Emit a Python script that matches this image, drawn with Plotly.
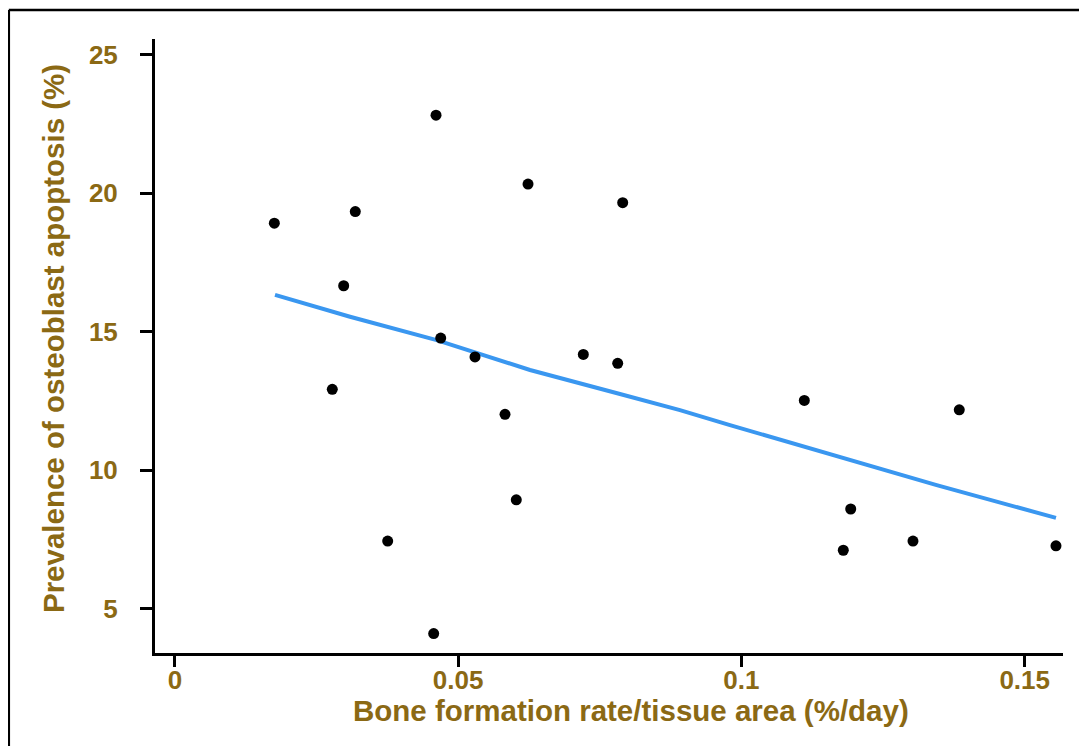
import plotly.graph_objects as go

# Scatter data: bone formation rate / tissue area (%/day) vs osteoblast apoptosis (%)
bfr = [0.01755, 0.03184, 0.04609, 0.06233, 0.07904, 0.02979, 0.04692, 0.05297,
       0.07209, 0.07816, 0.02778, 0.05827, 0.06026, 0.03756, 0.04568, 0.11110,
       0.13845, 0.11929, 0.11798, 0.13028, 0.15552]
apoptosis = [18.92, 19.34, 22.82, 20.33, 19.66, 16.66, 14.77, 14.09,
             14.18, 13.86, 12.92, 12.02, 8.93, 7.44, 4.10, 12.52,
             12.18, 8.60, 7.11, 7.44, 7.27]

# Smoothed trend line
trend_x = [0.01767, 0.03091, 0.04621, 0.06268, 0.07856, 0.08915, 0.09798, 0.11798, 0.13446, 0.15552]
trend_y = [16.33, 15.54, 14.70, 13.62, 12.75, 12.17, 11.63, 10.45, 9.46, 8.28]

x_ticks = [0, 0.05, 0.1, 0.15]
x_tick_labels = ["0", "0.05", "0.1", "0.15"]
y_ticks = [5, 10, 15, 20, 25]
y_tick_labels = ["5", "10", "15", "20", "25"]

x_title = "Bone formation rate/tissue area (%/day)"
y_title = "Prevalence of osteoblast apoptosis (%)"

GOLD = "#8B6914"
FONT = "Liberation Sans, Arial, sans-serif"

fig = go.Figure()
fig.add_trace(go.Scatter(x=trend_x, y=trend_y, mode="lines",
                         line=dict(color="#3a97f0", width=4), hoverinfo="skip",
                         showlegend=False))
fig.add_trace(go.Scatter(x=bfr, y=apoptosis, mode="markers",
                         marker=dict(color="black", size=11), showlegend=False))

axis_common = dict(showline=True, linecolor="black", linewidth=3, ticks="outside",
                   tickcolor="black", tickwidth=3, showgrid=False, zeroline=False,
                   tickfont=dict(family=FONT, size=26, color=GOLD, weight="bold"))

fig.update_xaxes(range=[-0.003513, 0.15676], tickvals=x_ticks, ticktext=x_tick_labels,
                 ticklen=11, ticklabelstandoff=-9, **axis_common)
fig.update_yaxes(range=[3.40, 25.57], tickvals=y_ticks, ticktext=y_tick_labels,
                 ticklen=12, ticklabelstandoff=17, **axis_common)

fig.add_annotation(text=x_title, xref="paper", yref="paper", x=0.5242, y=-0.094,
                   xanchor="center", yanchor="middle", showarrow=False,
                   font=dict(family=FONT, size=29.5, color=GOLD, weight="bold"))
fig.add_annotation(text=y_title, xref="paper", yref="paper", x=-0.1123, y=0.5114,
                   xanchor="center", yanchor="middle", showarrow=False, textangle=-90,
                   font=dict(family=FONT, size=29.5, color=GOLD, weight="bold"))

# outer frame (top and left edges)
fig.add_shape(type="line", xref="paper", yref="paper", x0=-0.161, x1=1.0187, y0=1.0472, y1=1.0472,
              line=dict(color="black", width=2.5))
fig.add_shape(type="line", xref="paper", yref="paper", x0=-0.161, x1=-0.161, y0=1.0472, y1=-0.2,
              line=dict(color="black", width=2.5))

fig.update_layout(width=1079, height=738, plot_bgcolor="white", paper_bgcolor="white",
                  margin=dict(l=147, r=24, t=31, b=93, pad=0))

fig.write_html("out.html")
